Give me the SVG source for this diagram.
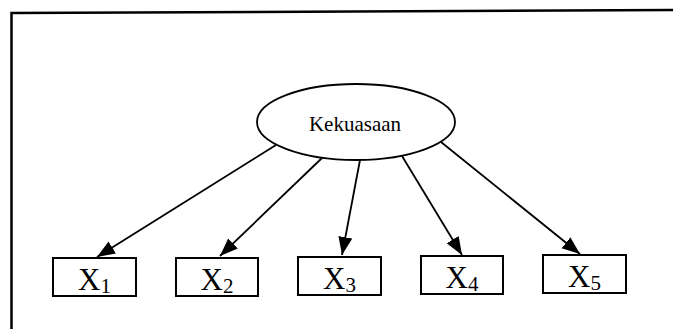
<svg xmlns="http://www.w3.org/2000/svg" width="673" height="329" viewBox="0 0 673 329">
  <style>
    .frame { fill: none; stroke: #000; stroke-width: 2.5; }
    .node { fill: #fff; stroke: #000; stroke-width: 2; }
    .ell { fill: #fff; stroke: #000; stroke-width: 1.8; }
    .edge { stroke: #000; stroke-width: 1.8; fill: none; marker-end: url(#head); }
    .lbl { font-family: "Liberation Serif", "Times New Roman", serif; fill: #000; }
    .big { font-size: 31px; }
    .sub { font-size: 21px; }
  </style>
  <defs>
    <marker id="head" markerUnits="userSpaceOnUse" markerWidth="20" markerHeight="16" refX="18" refY="7" orient="auto">
      <path d="M0,0 L18,7 L0,14 z" fill="#000"/>
    </marker>
  </defs>
  <rect width="673" height="329" fill="#fff"/>

  <!-- outer frame: top rule and left rule -->
  <g id="frame">
    <path class="frame" d="M11.5,329 L11.5,13 L673,10"/>
  </g>

  <!-- connectors from the latent variable to its indicators -->
  <g id="connectors">
    <line class="edge" x1="276" y1="145" x2="97" y2="257"/>
    <line class="edge" x1="322" y1="158" x2="220" y2="256"/>
    <line class="edge" x1="360" y1="160" x2="342" y2="255"/>
    <line class="edge" x1="402" y1="156" x2="462" y2="255"/>
    <line class="edge" x1="441" y1="142" x2="580" y2="254"/>
  </g>

  <g id="kekuasaan">
    <ellipse class="ell" cx="356" cy="122" rx="99" ry="38"/>
    <text class="lbl" x="355" y="131" font-size="21" text-anchor="middle">Kekuasaan</text>
  </g>

  <g id="x1">
    <rect class="node" x="53" y="258" width="83" height="38"/>
    <text class="lbl" x="94.5" y="290" text-anchor="middle"><tspan class="big">X</tspan><tspan class="sub" dy="3">1</tspan></text>
  </g>
  <g id="x2">
    <rect class="node" x="176" y="258" width="82" height="38"/>
    <text class="lbl" x="217" y="290" text-anchor="middle"><tspan class="big">X</tspan><tspan class="sub" dy="3">2</tspan></text>
  </g>
  <g id="x3">
    <rect class="node" x="298" y="257" width="83" height="38"/>
    <text class="lbl" x="339.5" y="289" text-anchor="middle"><tspan class="big">X</tspan><tspan class="sub" dy="3">3</tspan></text>
  </g>
  <g id="x4">
    <rect class="node" x="421" y="256" width="82" height="38"/>
    <text class="lbl" x="462" y="288" text-anchor="middle"><tspan class="big">X</tspan><tspan class="sub" dy="3">4</tspan></text>
  </g>
  <g id="x5">
    <rect class="node" x="543" y="255" width="83" height="38"/>
    <text class="lbl" x="584.5" y="287" text-anchor="middle"><tspan class="big">X</tspan><tspan class="sub" dy="3">5</tspan></text>
  </g>
</svg>
